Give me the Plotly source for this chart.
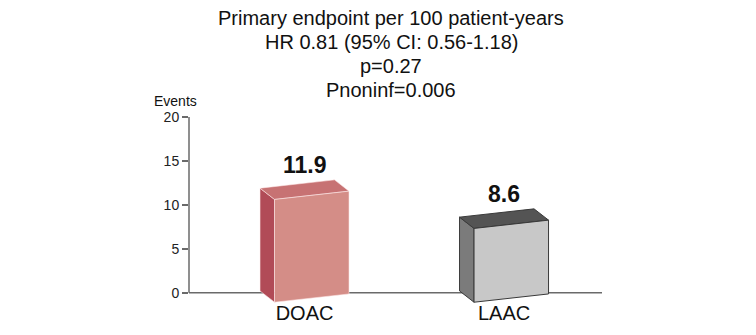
import plotly.graph_objects as go

# ---- data ----
categories = ["DOAC", "LAAC"]
values = [11.9, 8.6]
value_labels = ["11.9", "8.6"]
title_lines = [
    "Primary endpoint per 100 patient-years",
    "HR 0.81 (95% CI: 0.56-1.18)",
    "p=0.27",
    "Pnoninf=0.006",
]
y_ticks = [0, 5, 10, 15, 20]
y_label = "Events"

# ---- styling ----
face_colors = [
    {"front": "#D48D87", "top": "#C77273", "side": "#B14B57", "line": "rgba(255,235,235,0.55)"},
    {"front": "#C8C8C8", "top": "#545454", "side": "#7B7B7B", "line": "#3A3A3A"},
]
FONT = "Arial, 'Liberation Sans', sans-serif"
NARROW = "'Liberation Sans Narrow', 'Arial Narrow', Arial, sans-serif"

W, H = 756, 335
ML, MR, MT, MB = 189, 154, 116.7, 30
Y_MIN, Y_MAX = -1.4, 20
X_MIN, X_MAX = -0.579, 1.491
plot_w = W - ML - MR
plot_h = H - MT - MB
px_x = plot_w / (X_MAX - X_MIN)
px_y = plot_h / (Y_MAX - Y_MIN)

# box geometry (in pixels -> data units)
left_off = -44.5 / px_x
box_w = 74.5 / px_x
depth_dx = 14.5 / px_x
depth_dy = -11.3 / px_y
slant = 8.3 / px_y
base = 0.2

fig = go.Figure()

for i, (cat, v) in enumerate(zip(categories, values)):
    c = face_colors[i]
    bx = i + left_off
    top = v
    faces = {
        "side": ([bx, bx, bx + depth_dx, bx + depth_dx, bx],
                 [base, top, top + depth_dy, base + depth_dy, base]),
        "top": ([bx, bx + box_w, bx + box_w + depth_dx, bx + depth_dx, bx],
                [top, top + slant, top + slant + depth_dy, top + depth_dy, top]),
        "front": ([bx + depth_dx, bx + depth_dx, bx + depth_dx + box_w, bx + depth_dx + box_w, bx + depth_dx],
                  [base + depth_dy, top + depth_dy, top + depth_dy + slant, base + depth_dy + slant, base + depth_dy]),
    }
    for name in ["side", "top", "front"]:
        xs, ys = faces[name]
        fig.add_trace(go.Scatter(
            x=xs, y=ys, mode="lines", fill="toself",
            fillcolor=c[name], line=dict(color=c["line"], width=1),
            hoverinfo="skip", showlegend=False,
        ))
    fig.add_annotation(
        x=i, y=v, text=f"<b>{value_labels[i]}</b>", showarrow=False,
        yshift=23, yanchor="middle", xanchor="center",
        font=dict(family=NARROW, size=23, color="#111111"),
    )

# axis lines drawn below the boxes
fig.add_shape(type="line", xref="paper", yref="y", x0=0, x1=1, y0=0, y1=0,
              line=dict(color="#6A6A6A", width=1.5), layer="below")
fig.add_shape(type="line", xref="paper", yref="y", x0=0, x1=0, y0=0, y1=20,
              line=dict(color="#6A6A6A", width=1.5), layer="below")

# title lines
title_centers_px = [17.3, 41.3, 65.3, 89.3]
for t, yc in zip(title_lines, title_centers_px):
    fig.add_annotation(
        xref="paper", yref="paper", x=(391 - ML) / plot_w, y=(H - MB - yc) / plot_h,
        text=t, showarrow=False, xanchor="center", yanchor="middle",
        font=dict(family=FONT, size=20, color="#111111"),
    )

fig.add_annotation(
    xref="paper", yref="paper", x=(175 - ML) / plot_w, y=(H - MB - 101.0) / plot_h,
    text=y_label, showarrow=False, xanchor="center", yanchor="middle",
    font=dict(family=FONT, size=14, color="#111111"),
)

fig.update_layout(
    width=W, height=H,
    margin=dict(l=ML, r=MR, t=MT, b=MB, pad=0, autoexpand=False),
    paper_bgcolor="white", plot_bgcolor="white",
    showlegend=False,
    xaxis=dict(
        range=[X_MIN, X_MAX], tickvals=list(range(len(categories))), ticktext=categories,
        showgrid=False, zeroline=False, showline=False, ticks="", automargin=False,
        ticklabelstandoff=-6,
        tickfont=dict(family=FONT, size=20, color="#111111"),
        fixedrange=True,
    ),
    yaxis=dict(
        range=[Y_MIN, Y_MAX], tickvals=y_ticks, ticktext=[str(t) for t in y_ticks],
        showgrid=False, zeroline=False, showline=False, automargin=False,
        ticks="outside", ticklen=6, tickwidth=1.5, tickcolor="#6A6A6A",
        tickfont=dict(family=FONT, size=14, color="#222222"),
        fixedrange=True,
    ),
)

fig.write_html("out.html")
